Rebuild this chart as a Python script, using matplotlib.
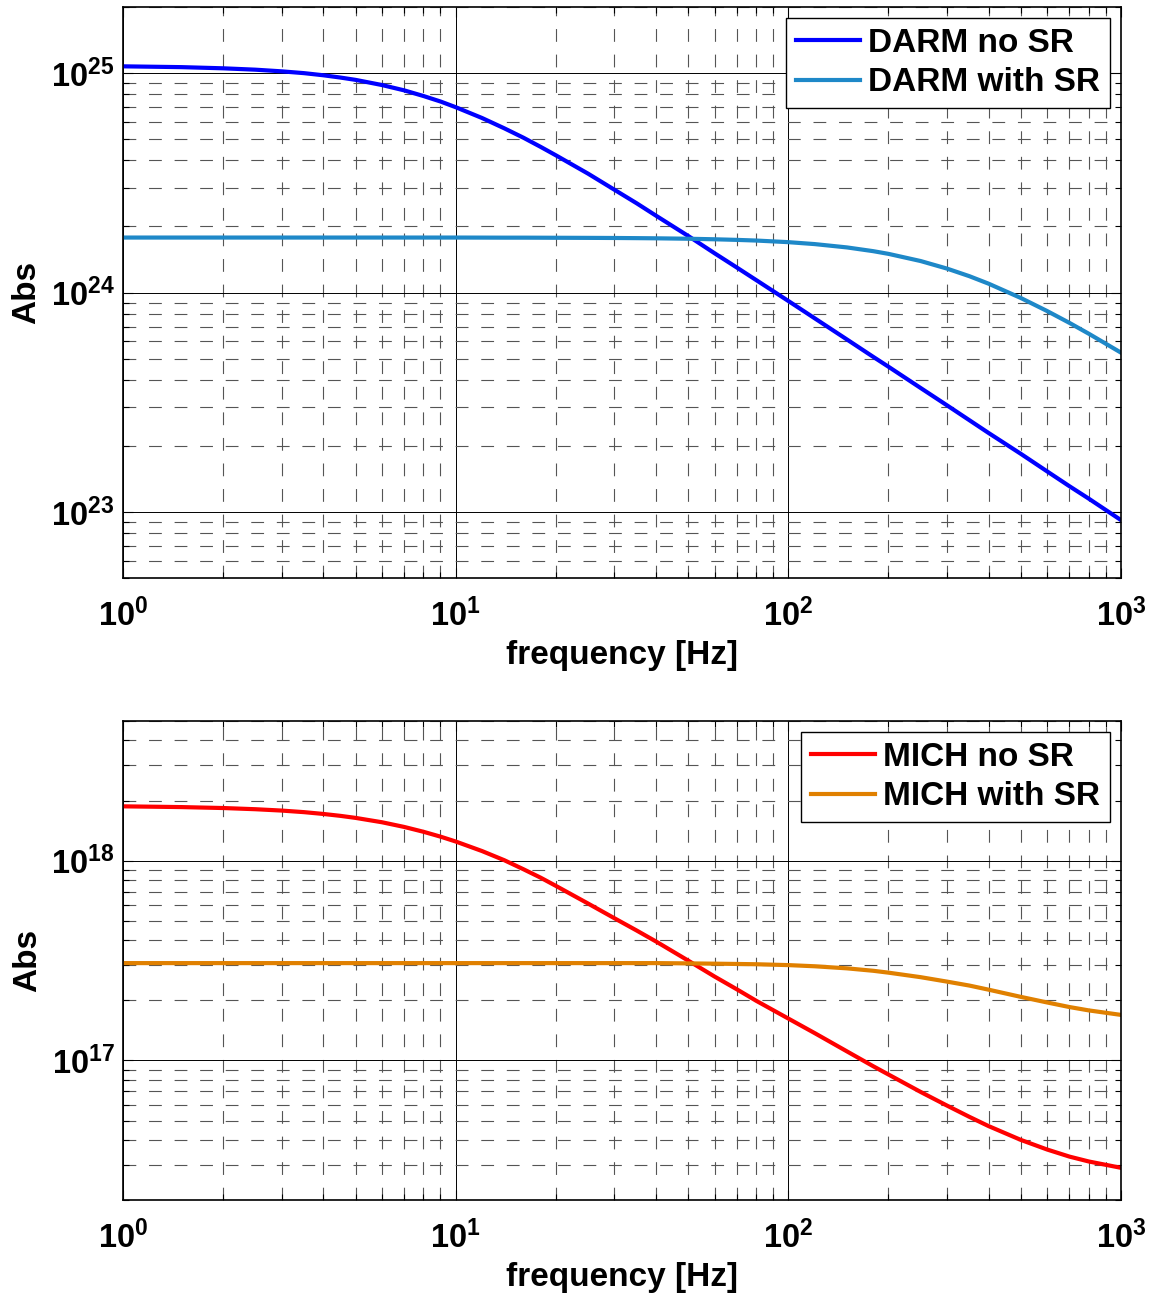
import numpy as np
import matplotlib
matplotlib.use("Agg")
import matplotlib.pyplot as plt
from matplotlib.ticker import FuncFormatter, LogLocator, NullFormatter

plt.rcParams['font.family'] = ['Liberation Sans', 'DejaVu Sans']
plt.rcParams['mathtext.fontset'] = 'custom'
plt.rcParams['mathtext.rm'] = 'Liberation Sans:bold'
plt.rcParams['mathtext.bf'] = 'Liberation Sans:bold'
plt.rcParams['mathtext.it'] = 'Liberation Sans:bold:italic'

# values
freq = [1, 1.2, 1.5, 2, 2.5, 3, 3.5, 4, 4.5, 5, 6, 7, 8, 9, 10, 12, 14, 16, 18,
        20, 25, 30, 35, 40, 50, 60, 70, 80, 100, 120, 150, 180, 200, 250, 300,
        350, 400, 500, 600, 700, 800, 1000]

darm_no_sr = [1.073e25, 1.069e25, 1.064e25, 1.051e25, 1.036e25, 1.018e25,
              9.99e24, 9.77e24, 9.54e24, 9.31e24, 8.82e24, 8.34e24, 7.86e24,
              7.42e24, 6.99e24, 6.24e24, 5.60e24, 5.07e24, 4.61e24, 4.22e24,
              3.48e24, 2.94e24, 2.55e24, 2.24e24, 1.81e24, 1.51e24, 1.30e24,
              1.14e24, 9.15e23, 7.63e23, 6.11e23, 5.09e23, 4.59e23, 3.67e23,
              3.06e23, 2.62e23, 2.29e23, 1.84e23, 1.53e23, 1.31e23, 1.15e23,
              9.18e22]
darm_with_sr = [1.78e24, 1.78e24, 1.78e24, 1.78e24, 1.78e24, 1.78e24,
                1.78e24, 1.78e24, 1.78e24, 1.78e24, 1.78e24, 1.78e24, 1.78e24,
                1.78e24, 1.78e24, 1.779e24, 1.778e24, 1.778e24, 1.777e24,
                1.776e24, 1.774e24, 1.772e24, 1.769e24, 1.766e24, 1.758e24,
                1.748e24, 1.737e24, 1.725e24, 1.696e24, 1.662e24, 1.605e24,
                1.543e24, 1.500e24, 1.391e24, 1.285e24, 1.187e24, 1.097e24,
                9.44e23, 8.23e23, 7.27e23, 6.49e23, 5.32e23]

mich_no_sr = [1.87e18, 1.863e18, 1.854e18, 1.834e18, 1.809e18, 1.781e18,
              1.749e18, 1.713e18, 1.676e18, 1.637e18, 1.557e18, 1.475e18,
              1.395e18, 1.319e18, 1.247e18, 1.117e18, 1.005e18, 9.05e17,
              8.22e17, 7.48e17, 6.1e17, 5.15e17, 4.47e17, 3.94e17, 3.16e17,
              2.63e17, 2.27e17, 1.99e17, 1.62e17, 1.37e17, 1.11e17, 9.35e16,
              8.5e16, 6.95e16, 5.94e16, 5.22e16, 4.69e16, 4.0e16, 3.58e16,
              3.3e16, 3.12e16, 2.9e16]
mich_with_sr = [3.07e17, 3.07e17, 3.07e17, 3.07e17, 3.07e17, 3.07e17,
                3.07e17, 3.07e17, 3.07e17, 3.07e17, 3.07e17, 3.07e17, 3.07e17,
                3.07e17, 3.07e17, 3.07e17, 3.07e17, 3.07e17, 3.07e17, 3.07e17,
                3.07e17, 3.07e17, 3.07e17, 3.07e17, 3.06e17, 3.05e17, 3.04e17,
                3.03e17, 3.0e17, 2.96e17, 2.89e17, 2.81e17, 2.75e17, 2.61e17,
                2.48e17, 2.37e17, 2.26e17, 2.08e17, 1.95e17, 1.85e17, 1.78e17,
                1.69e17]

top_labels = ["DARM no SR", "DARM with SR"]
bottom_labels = ["MICH no SR", "MICH with SR"]
top_colors = ["#0000ff", "#1e88c8"]
bottom_colors = ["#ff0000", "#e08000"]


def pow10(v, pos):
    return r'$\mathbf{10^{%d}}$' % int(round(np.log10(v)))


def style_axes(ax, ylim):
    ax.set_xscale('log')
    ax.set_yscale('log')
    ax.set_xlim(1, 1000)
    ax.set_ylim(*ylim)
    ax.xaxis.set_major_formatter(FuncFormatter(pow10))
    ax.yaxis.set_major_formatter(FuncFormatter(pow10))
    ax.xaxis.set_minor_formatter(NullFormatter())
    ax.yaxis.set_minor_formatter(NullFormatter())
    ax.xaxis.set_minor_locator(LogLocator(base=10, subs=np.arange(2, 10)))
    ax.yaxis.set_minor_locator(LogLocator(base=10, subs=np.arange(2, 10)))
    ax.grid(True, which='major', color='black', linestyle='-', linewidth=0.7)
    ax.grid(True, which='minor', color='#555555', linestyle=(0, (11.5, 11.5)),
            linewidth=0.8)
    ax.tick_params(which='both', direction='in', top=True, right=True,
                   labelsize=23.5, width=0.8)
    ax.tick_params(which='major', length=7)
    ax.tick_params(which='minor', length=4)
    ax.tick_params(axis='x', pad=15)
    ax.tick_params(axis='y', pad=6)
    for s in ax.spines.values():
        s.set_linewidth(1.2)
    ax.set_xlabel("frequency [Hz]", fontsize=24, fontweight='bold', labelpad=5)
    ax.set_ylabel("Abs", fontsize=24, fontweight='bold', labelpad=6)


fig = plt.figure(figsize=(11.54, 12.94), dpi=100)
ax1 = fig.add_axes([0.1066, 0.5533, 0.8648, 0.4413])
ax2 = fig.add_axes([0.1066, 0.0726, 0.8648, 0.3702])

ax1.plot(freq, darm_no_sr, color=top_colors[0], linewidth=3, label=top_labels[0])
ax1.plot(freq, darm_with_sr, color=top_colors[1], linewidth=3, label=top_labels[1])
style_axes(ax1, (5e22, 2e25))

ax2.plot(freq, mich_no_sr, color=bottom_colors[0], linewidth=3, label=bottom_labels[0])
ax2.plot(freq, mich_with_sr, color=bottom_colors[1], linewidth=3, label=bottom_labels[1])
style_axes(ax2, (2e16, 5e18))

for ax in (ax1, ax2):
    leg = ax.legend(loc='upper right', fancybox=False, framealpha=1,
                    edgecolor='black', prop={'size': 24, 'weight': 'bold'},
                    handlelength=1.9, borderaxespad=0.33, borderpad=0.3,
                    labelspacing=0.25, handletextpad=0.25)
    leg.get_frame().set_linewidth(1.0)

fig.savefig("out.png", dpi=100)
